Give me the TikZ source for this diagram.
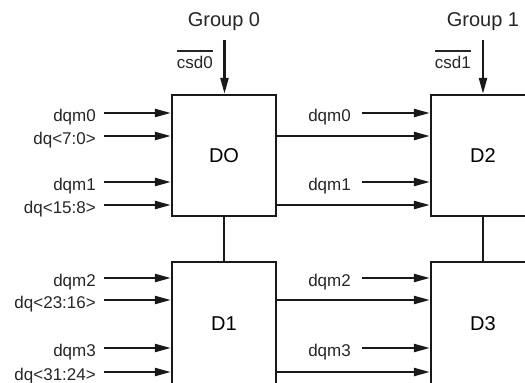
\documentclass[tikz,border=0pt]{standalone}
\usepackage{fontspec}
\setmainfont{Liberation Sans}
\usetikzlibrary{arrows.meta}
% signal name with a bar over it (active-low)
\newcommand\activelow[1]{\leavevmode\vbox{\hrule height 1.8pt\kern 4pt\hbox{#1}}}
\begin{document}
\begin{tikzpicture}[x=1pt,y=-1pt,
  ink/.style={draw=black!90, line width=2.3pt},
  chip/.style={ink, rectangle, minimum width=104pt, inner sep=0pt,
    font=\fontsize{20}{24}\selectfont},
  arr/.style={ink, -{Triangle[length=16pt,width=8pt]}},
  sig/.style={inner sep=0pt, text=black!85, font=\fontsize{17}{20}\selectfont},
  grp/.style={inner sep=0pt, text=black!85, font=\fontsize{20}{24}\selectfont}]
\useasboundingbox (0,0) rectangle (525,383);
\clip (0,0) rectangle (525,383);

% the four memory devices
\node[chip, minimum height=121pt] (d0) at (224,155.5) {DO};
\node[chip, minimum height=124pt] (d1) at (224,324) {D1};
\node[chip, minimum height=121pt] (d2) at (483,155.5) {D2};
\node[chip, minimum height=124pt] (d3) at (483,324) {D3};
\draw[ink] (d0.south) -- (d1.north);
\draw[ink] (d2.south) -- (d3.north);

% chip selects
\node[grp, anchor=base] (g0) at (224,26) {Group 0};
\node[grp, anchor=base] (g1) at (483,26) {Group 1};
\coordinate (cs0) at (224.5,40);
\coordinate (cs1) at (483,40);
\draw[arr] (cs0) -- (cs0 |- d0.north);
\draw[arr] (cs1) -- (cs1 |- d2.north);
\node[sig, anchor=base east] (csd0) at (213,68.5) {\activelow{csd0}};
\node[sig, anchor=base east] (csd1) at (471,68.5) {\activelow{csd1}};

% inputs on the left of D0 and D1
\foreach \name/\y/\txt/\dev in {a/113/dqm0/d0, b/136/dq<7:0>/d0,
    c/182/dqm1/d0, e/205/dq<15:8>/d0, f/278/dqm2/d1, g/300/dq<23:16>/d1,
    h/348/dqm3/d1, k/372/dq<31:24>/d1} {
  \coordinate (in\name) at (104,\y);
  \node[sig, anchor=base east] (l\name) at (96,\y+8.8) {\txt};
  \draw[arr] (in\name) -- (in\name -| \dev.west);
}

% data mask inputs on the left of D2 and D3
\foreach \name/\y/\txt/\dev in {a/113/dqm0/d2, c/182/dqm1/d2,
    f/278/dqm2/d3, h/348/dqm3/d3} {
  \coordinate (mid\name) at (362,\y);
  \node[sig, anchor=base east] (m\name) at (351,\y+8.8) {\txt};
  \draw[arr] (mid\name) -- (mid\name -| \dev.west);
}

% data buses passing across
\foreach \name/\y/\from/\to in {b/136/d0/d2, e/205/d0/d2, g/300/d1/d3, k/372/d1/d3} {
  \coordinate (bus\name) at (0,\y);
  \draw[arr] (bus\name -| \from.east) -- (bus\name -| \to.west);
}
\end{tikzpicture}
\end{document}
